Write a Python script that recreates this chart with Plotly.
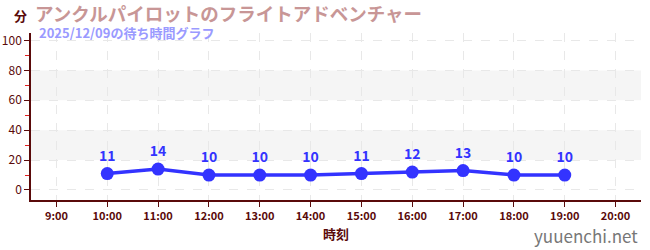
import plotly.graph_objects as go

hours = [10, 11, 12, 13, 14, 15, 16, 17, 18, 19]
waits = [11, 14, 10, 10, 10, 11, 12, 13, 10, 10]
tick_vals = list(range(9, 21))
tick_text = [f"{h}:00" for h in tick_vals]
title = "アンクルパイロットのフライトアドベンチャー"
subtitle = "2025/12/09の待ち時間グラフ"

FONT = "Noto Sans CJK JP"
AXC = "#5a0a0a"

fig = go.Figure()
fig.add_trace(go.Scatter(
    x=hours, y=waits, mode="lines+markers+text",
    text=[str(v) for v in waits], textposition="top center",
    textfont=dict(family=FONT, size=14, color="#3333ff", weight="bold"),
    line=dict(color="#3333ff", width=3.5),
    marker=dict(color="#3333ff", size=13),
    hoverinfo="skip", cliponaxis=False,
))

for lo, hi in [(20, 40), (60, 80)]:
    fig.add_shape(type="rect", xref="paper", yref="y", x0=0, x1=1, y0=lo, y1=hi,
                  fillcolor="#f5f5f5", line=dict(width=0), layer="below")

fig.update_layout(
    width=650, height=250,
    margin=dict(l=31, r=9, t=33, b=50, autoexpand=False),
    paper_bgcolor="white", plot_bgcolor="white",
    showlegend=False,
    font=dict(family=FONT, color=AXC),
)
fig.update_xaxes(
    automargin=False,
    range=[8.5, 20.5], tickvals=tick_vals, ticktext=tick_text,
    tickfont=dict(family=FONT, size=11, color=AXC, weight="bold"),
    showline=True, linecolor=AXC, linewidth=1.5,
    ticks="outside", ticklen=5, tickcolor=AXC,
    showgrid=True, gridcolor="#e8e8e8", griddash="dash", gridwidth=1,
    zeroline=False,
    title=dict(text="時刻", font=dict(family=FONT, size=13, color=AXC, weight="bold"), standoff=8),
)
fig.update_yaxes(
    automargin=False,
    range=[-6.7, 105], tickvals=[0, 20, 40, 60, 80, 100],
    tickfont=dict(family=FONT, size=12, color=AXC),
    showline=True, linecolor=AXC, linewidth=1.5,
    ticks="outside", ticklen=5, tickcolor=AXC,
    minor=dict(dtick=10, tick0=0, ticks="outside", ticklen=4, tickcolor="#e02020", showgrid=False),
    showgrid=True, gridcolor="#e8e8e8", griddash="dash", gridwidth=1,
    zeroline=False,
)

fig.add_annotation(xref="paper", yref="paper", x=-0.004, y=1.0, yshift=18, text="分",
                   showarrow=False, xanchor="right", yanchor="middle",
                   font=dict(family=FONT, size=13, color=AXC, weight="bold"))
fig.add_annotation(xref="paper", yref="paper", x=0.005, y=1.0, yshift=20, text=title,
                   showarrow=False, xanchor="left", yanchor="middle", height=20, borderpad=0,
                   font=dict(family=FONT, size=18.5, color="#c89696", weight="bold"))
fig.add_annotation(xref="paper", yref="paper", x=0.012, y=1.0, yshift=1, text=subtitle,
                   showarrow=False, xanchor="left", yanchor="middle", height=15, borderpad=0,
                   font=dict(family=FONT, size=13, color="#9a9aff", weight="bold"))
fig.add_annotation(xref="paper", yref="paper", x=1.0, y=0, yshift=-35, xshift=-1, text="yuuenchi.net",
                   showarrow=False, xanchor="right", yanchor="middle",
                   font=dict(family=FONT, size=17, color="#777777"))

fig.write_html("out.html")
